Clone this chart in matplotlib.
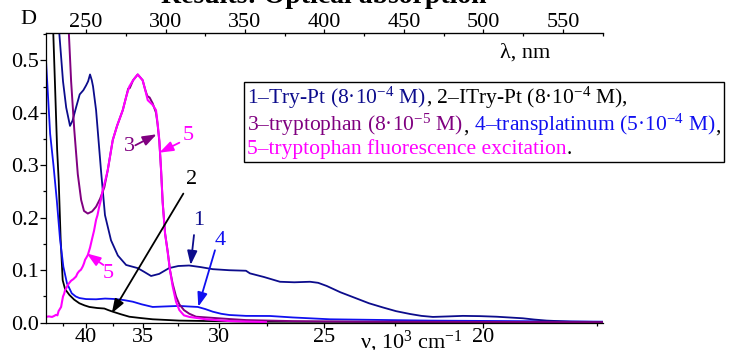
import matplotlib
matplotlib.use('Agg')
import matplotlib.pyplot as plt
from matplotlib.ticker import FixedLocator
from matplotlib.offsetbox import TextArea, HPacker, VPacker, AnchoredOffsetbox

plt.rcParams['font.family'] = ['Liberation Serif', 'DejaVu Serif']
plt.rcParams['mathtext.fontset'] = 'custom'
plt.rcParams['mathtext.rm'] = 'Liberation Serif'

# ---------------- data (wavelength, nm ; optical density D) ----------------
lam1 = [230.5, 233.2, 235.5, 237.5, 239.9, 241.5, 243.7, 246.0, 248.3, 250.0, 251.3, 252.5, 253.6,
        254.4, 256.3, 259.4, 261.9, 265.7, 270.0, 275.2, 282.5, 286.5, 290.9, 296.0, 302.2, 308.0,
        314.8, 322.0, 329.7, 340.0, 350.6, 353.1, 362.0, 372.0, 381.0, 390.9, 396.0, 401.4, 410.0,
        420.3, 428.0, 436.8, 445.0, 453.8, 461.0, 468.2, 478.0, 487.1, 498.0, 508.3, 516.0, 524.8,
        532.0, 539.8, 555.0, 575.0]
d1 = [0.75, 0.55, 0.46, 0.41, 0.375, 0.385, 0.41, 0.435, 0.443, 0.452, 0.46, 0.473, 0.462,
      0.45, 0.405, 0.29, 0.205, 0.157, 0.128, 0.110, 0.104, 0.097, 0.089, 0.093, 0.104, 0.108,
      0.109, 0.106, 0.102, 0.100, 0.099, 0.094, 0.087, 0.078, 0.077, 0.078, 0.076, 0.070, 0.058,
      0.046, 0.037, 0.029, 0.022, 0.0166, 0.013, 0.011, 0.012, 0.013, 0.0125, 0.0114, 0.010, 0.0084,
      0.006, 0.004, 0.002, 0.0013]

lam2 = [228.6, 229.4, 230.5, 231.8, 232.8, 234.0, 235.3, 236.8, 239.5, 242.5, 245.8, 249.0, 252.1,
        257.0, 261.5, 264.0, 266.8, 272.0, 277.2, 284.0, 291.9, 308.7, 330.0, 353.0, 450.0, 575.0]
d2 = [0.60, 0.55, 0.45, 0.33, 0.27, 0.16, 0.081, 0.064, 0.053, 0.044, 0.037, 0.033, 0.030,
      0.028, 0.027, 0.024, 0.021, 0.016, 0.0114, 0.009, 0.0065, 0.004, 0.003, 0.002, 0.0015, 0.001]

lam3 = [233.6, 239.1, 240.6, 242.6, 244.8, 246.9, 248.7, 251.1, 253.8, 256.3, 258.8, 261.5, 263.6,
        266.8, 269.5, 273.1, 275.2, 276.5, 277.5, 279.6, 282.5, 285.6, 287.1, 288.5, 290.0, 291.9,
        294.0, 295.0, 296.1, 297.2, 298.2, 299.7, 301.4, 302.8, 304.5, 306.6, 308.7, 311.6, 315.0,
        319.2, 340.1, 350.6, 380.0, 420.0, 500.0, 575.0]
d3 = [0.90, 0.557, 0.46, 0.367, 0.283, 0.234, 0.213, 0.208, 0.212, 0.221, 0.236, 0.258, 0.29,
      0.348, 0.375, 0.405, 0.43, 0.446, 0.447, 0.462, 0.473, 0.462, 0.445, 0.432, 0.429, 0.418,
      0.40, 0.378, 0.345, 0.29, 0.23, 0.17, 0.135, 0.10, 0.074, 0.05, 0.035, 0.024, 0.017,
      0.0114, 0.007, 0.005, 0.003, 0.002, 0.0015, 0.001]

lam4 = [224.8, 227.4, 229.5, 231.6, 233.6, 235.7, 238.0, 241.0, 243.5, 245.8, 250.0, 256.3, 262.0,
        268.9, 274.0, 279.4, 285.0, 291.9, 300.0, 308.7, 314.0, 320.3, 325.0, 329.7, 335.0, 340.1,
        350.6, 365.7, 380.0, 403.5, 466.4, 575.0]
d4 = [0.50, 0.36, 0.30, 0.233, 0.16, 0.107, 0.075, 0.056, 0.050, 0.047, 0.045, 0.0446, 0.046,
      0.045, 0.043, 0.040, 0.035, 0.030, 0.031, 0.032, 0.031, 0.030, 0.026, 0.021, 0.017, 0.0147,
      0.013, 0.0128, 0.010, 0.0065, 0.004, 0.002]

lam5 = [224.8, 226.5, 228.6, 230.0, 231.1, 232.0, 232.7, 233.5, 234.3, 235.0, 235.5, 236.2, 236.8,
        237.6, 238.5, 239.5, 240.6, 242.0, 243.7, 244.6, 245.6, 246.8, 247.9, 248.7, 249.4, 250.2,
        251.1, 252.5, 253.8, 255.0, 256.3, 257.2, 258.2, 259.4, 260.5, 262.0, 263.6, 266.8, 269.5,
        273.1, 275.2, 277.2, 279.6, 282.5, 285.6, 287.1, 288.8, 291.9, 294.0, 295.0, 296.1, 297.2,
        298.2, 299.7, 301.4, 302.8, 304.5, 306.6, 308.7, 311.6, 315.0, 325.5, 340.6, 363.2]
d5 = [0.011, 0.012, 0.011, 0.013, 0.015, 0.014, 0.022, 0.026, 0.030, 0.042, 0.050, 0.055, 0.062,
      0.066, 0.072, 0.076, 0.080, 0.083, 0.088, 0.094, 0.098, 0.101, 0.107, 0.113, 0.120, 0.124,
      0.129, 0.143, 0.160, 0.175, 0.196, 0.205, 0.220, 0.235, 0.253, 0.270, 0.29, 0.348, 0.375,
      0.405, 0.43, 0.45, 0.462, 0.473, 0.462, 0.445, 0.424, 0.415, 0.405, 0.38, 0.348, 0.29,
      0.228, 0.17, 0.133, 0.10, 0.069, 0.04, 0.024, 0.014, 0.011, 0.0065, 0.003, 0.001]

nu_major = [40, 35, 30, 25, 20]
nu_minor = [42.5, 37.5, 32.5, 27.5, 22.5, 17.5]
lam_major = [250, 300, 350, 400, 450, 500, 550]
lam_minor = [275, 325, 375, 425, 475, 525, 575]
d_major = [0.0, 0.1, 0.2, 0.3, 0.4, 0.5]
d_minor = [0.05, 0.15, 0.25, 0.35, 0.45, 0.55]

NAVY = '#0c0c8c'
BLACK = '#000000'
PURPLE = '#800080'
BLUE = '#1010f0'
MAGENTA = '#ff00ff'

# ---------------- figure ----------------
W, H = 729, 350
fig = plt.figure(figsize=(W / 100, H / 100), dpi=100)
ax = fig.add_axes([46 / W, 1 - 322.7 / H, (603 - 46) / W, (322.7 - 33) / H])
ax.set_xlim(224.8, 575.2)
ax.set_ylim(0, 0.552)

ax.plot(lam2, d2, color=BLACK, lw=1.3)
ax.plot(lam4, d4, color=BLUE, lw=1.3)
ax.plot(lam1, d1, color=NAVY, lw=1.3)
ax.plot(lam3, d3, color=PURPLE, lw=1.4)
ax.plot(lam5, d5, color=MAGENTA, lw=1.5)

for s in ['left', 'bottom', 'top']:
    ax.spines[s].set_linewidth(0.9)
ax.spines['right'].set_visible(False)

ax.set_xticks([1e4 / v for v in nu_major])
ax.set_xticklabels([str(v) for v in nu_major])
ax.xaxis.set_minor_locator(FixedLocator([1e4 / v for v in nu_minor]))
ax.set_yticks(d_major)
ax.set_yticklabels(['%.1f' % v for v in d_major])
ax.yaxis.set_minor_locator(FixedLocator(d_minor))
ax.tick_params(axis='y', which='major', direction='out', length=4.3, width=0.9, labelsize=16, pad=0.7)
ax.tick_params(axis='x', which='major', direction='out', length=3.6, width=0.9, labelsize=16, pad=0.3)
ax.tick_params(which='minor', direction='out', length=2.2, width=0.9)

top = ax.secondary_xaxis('top')
top.set_xticks(lam_major)
top.set_xticklabels([str(v) for v in lam_major])
top.xaxis.set_minor_locator(FixedLocator(lam_minor))
top.tick_params(which='major', direction='out', length=2.9, width=0.9, labelsize=16, pad=-2.0)
top.tick_params(which='minor', direction='in', length=2.2, width=0.9)

fig.text(28 / W, 1 - 20 / H, 'D', ha='center', va='center', fontsize=16)
fig.text(525 / W, 1 - 53 / H, 'λ, nm', ha='center', va='center', fontsize=16)
fig.text(360 / W, 1 - 348 / H, r'ν, $\mathregular{10^3}$ $\mathregular{cm^{-1}}$', ha='left',
         va='baseline', fontsize=16)
fig.text(324 / W, 1 - 3 / H, 'Results: Optical absorption', ha='center', va='baseline',
         fontsize=20, fontweight='bold')

# ---------------- curve labels with arrows ----------------
def label(txt, pos, tail, tip, color):
    ax.annotate('', xy=tip, xytext=tail,
                arrowprops=dict(arrowstyle='-|>,head_length=0.7,head_width=0.25', color=color,
                                lw=1.3, shrinkA=0, shrinkB=0, mutation_scale=12))
    ax.text(pos[0], pos[1], txt, color=color, fontsize=16, ha='center', va='center')

label('1', (320.6, 0.195), (317.9, 0.167), (315.8, 0.110), NAVY)
label('4', (334.3, 0.157), (331.1, 0.138), (320.6, 0.0305), BLUE)
label('2', (316.5, 0.272), (311.2, 0.246), (266.2, 0.018), BLACK)
label('5', (264.0, 0.094), (260.9, 0.110), (250.4, 0.132), MAGENTA)
label('3', (277.2, 0.335), (281.0, 0.338), (294.4, 0.359), PURPLE)
label('5', (314.0, 0.357), (308.7, 0.343), (296.1, 0.324), MAGENTA)

# ---------------- coloured legend box ----------------
FS = 15.5
def ta(s, c):
    return TextArea(s, textprops=dict(color=c, fontsize=FS))

m4 = r'$\mathregular{10^{-4}}$'
m5 = r'$\mathregular{10^{-5}}$'
row1 = HPacker(children=[ta('1–Try-Pt (8·' + m4 + ' M)', NAVY),
                         ta(', 2–ITry-Pt (8·' + m4 + ' M),', BLACK)], align='baseline', pad=0, sep=0)
row2 = HPacker(children=[ta('3–tryptophan (8·' + m5 + ' M)', PURPLE),
                         ta(',', BLACK),
                         ta(' 4–transplatinum (5·' + m4 + ' M)', BLUE),
                         ta(',', BLACK)], align='baseline', pad=0, sep=0)
row3 = HPacker(children=[ta('5–tryptophan fluorescence excitation', MAGENTA),
                         ta('.', BLACK)], align='baseline', pad=0, sep=0)
box = VPacker(children=[row1, row2, row3], align='left', pad=0, sep=0.5)
anch = AnchoredOffsetbox(loc='upper left', child=box, pad=0.15, borderpad=0, frameon=True,
                         bbox_to_anchor=(244 / W, 1 - 82 / H), bbox_transform=fig.transFigure,
                         prop=dict(size=FS))
anch.patch.set_edgecolor('black')
anch.patch.set_linewidth(1.0)
anch.patch.set_boxstyle('square', pad=0)
fig.add_artist(anch)

fig.savefig('out.png', dpi=100)
